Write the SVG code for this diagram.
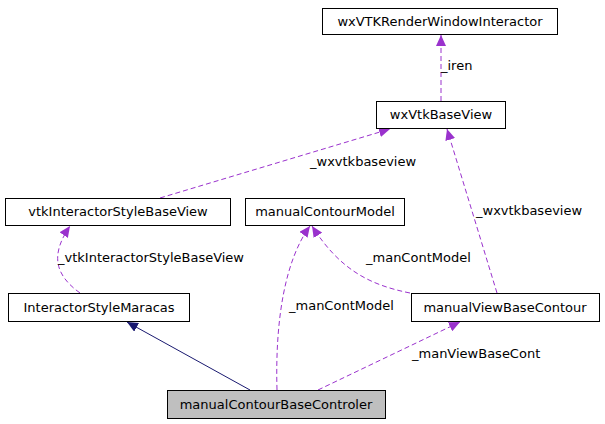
<svg xmlns="http://www.w3.org/2000/svg" width="605" height="424" viewBox="0 0 605 424">
<style>
.n rect{fill:#fff;stroke:#000;stroke-width:1}
text{font-family:"DejaVu Sans",sans-serif;font-size:13px;fill:#000}
.n text{text-anchor:middle}
.d{fill:none;stroke:#9a32cd;stroke-dasharray:5,3}
.s{fill:none;stroke:#191970}
</style>
<defs>
<marker id="mp" markerWidth="12" markerHeight="10" refX="11" refY="5" orient="auto" markerUnits="userSpaceOnUse"><path d="M0,0 L11,5 L0,10 z" fill="#9a32cd"/></marker>
<marker id="mn" markerWidth="12" markerHeight="10" refX="11" refY="5" orient="auto" markerUnits="userSpaceOnUse"><path d="M0,0 L11,5 L0,10 z" fill="#191970"/></marker>
</defs>
<rect width="605" height="424" fill="#fff"/>
<g id="connectors">
<path class="d" d="M441,101 L441,35" marker-end="url(#mp)"/>
<text x="441" y="70">_iren</text>
<path class="d" d="M160,198 L390,129" marker-end="url(#mp)"/>
<text x="310" y="166">_wxvtkbaseview</text>
<path class="d" d="M497,293 L447,129" marker-end="url(#mp)"/>
<text x="476" y="215">_wxvtkbaseview</text>
<path class="d" d="M80,293 C55,275 50,255 70,226" marker-end="url(#mp)"/>
<text x="58" y="262">_vtkInteractorStyleBaseView</text>
<path class="d" d="M410,293 C370,285 340,270 312,226" marker-end="url(#mp)"/>
<text x="366" y="262">_manContModel</text>
<path class="d" d="M277,390 C275,320 285,260 310,226" marker-end="url(#mp)"/>
<text x="289" y="310">_manContModel</text>
<path class="d" d="M318,390 L460,322" marker-end="url(#mp)"/>
<text x="412" y="358">_manViewBaseCont</text>
<path class="s" d="M250,390 L127,322" marker-end="url(#mn)"/>
</g>
<g id="wxVTKRenderWindowInteractor" class="n"><rect x="322.5" y="8.5" width="235" height="26"/><text x="440" y="26">wxVTKRenderWindowInteractor</text></g>
<g id="wxVtkBaseView" class="n"><rect x="376.5" y="101.5" width="129" height="27"/><text x="441" y="119">wxVtkBaseView</text></g>
<g id="vtkInteractorStyleBaseView" class="n"><rect x="5.5" y="198.5" width="225" height="27"/><text x="118" y="216">vtkInteractorStyleBaseView</text></g>
<g id="manualContourModel" class="n"><rect x="245.5" y="198.5" width="159" height="27"/><text x="325" y="216">manualContourModel</text></g>
<g id="InteractorStyleMaracas" class="n"><rect x="8.5" y="293.5" width="181" height="28"/><text x="99" y="312">InteractorStyleMaracas</text></g>
<g id="manualViewBaseContour" class="n"><rect x="411.5" y="293.5" width="188" height="28"/><text x="505" y="312">manualViewBaseContour</text></g>
<g id="manualContourBaseControler" class="n"><rect x="167.5" y="390.5" width="218" height="28" style="fill:#bfbfbf"/><text x="276" y="409">manualContourBaseControler</text></g>
</svg>
